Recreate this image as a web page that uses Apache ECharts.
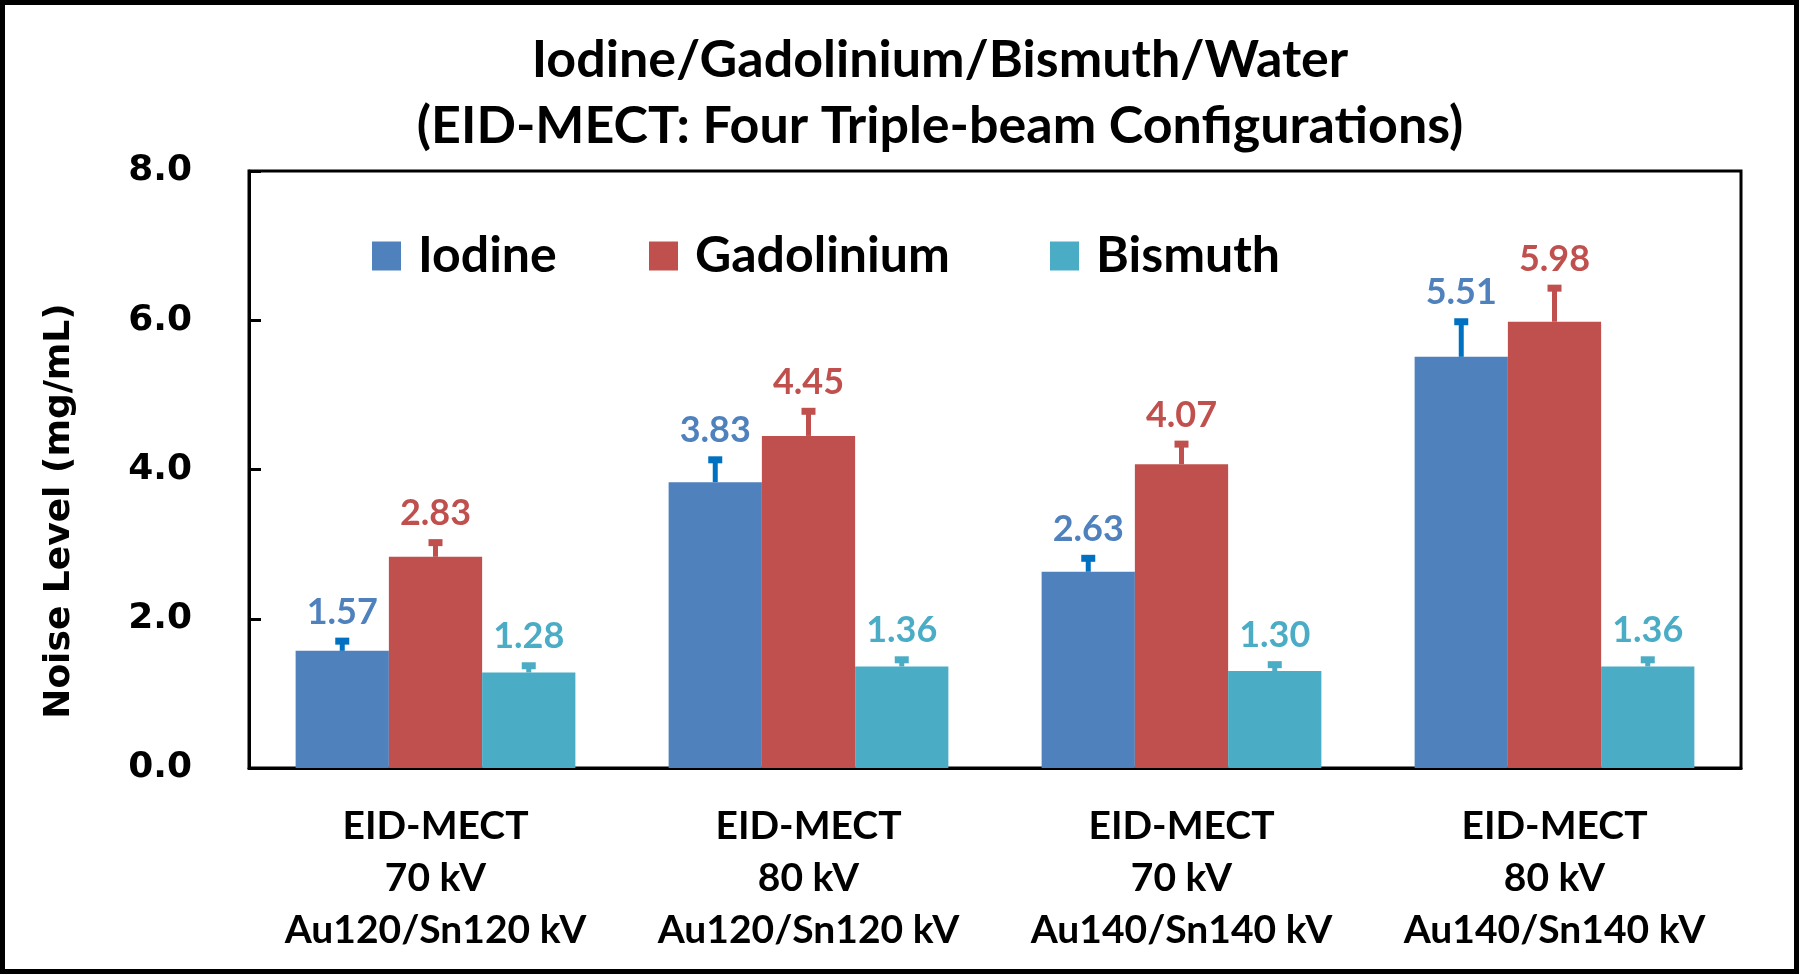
<!DOCTYPE html>
<html>
<head>
<meta charset="utf-8">
<script src="https://cdn.jsdelivr.net/npm/echarts@6/dist/echarts.min.js"></script>
<style>html,body{margin:0;padding:0;background:#fff;}#c{width:1800px;height:975px;}</style>
</head>
<body>
<div id="c"></div>
<script>
const categories = ['EID-MECT\n70 kV\nAu120/Sn120 kV', 'EID-MECT\n80 kV\nAu120/Sn120 kV', 'EID-MECT\n70 kV\nAu140/Sn140 kV', 'EID-MECT\n80 kV\nAu140/Sn140 kV'];
const seriesNames = ['Iodine', 'Gadolinium', 'Bismuth'];
const iodine = [1.57, 3.83, 2.63, 5.51];
const iodineErr = [0.13, 0.30, 0.18, 0.47];
const gadolinium = [2.83, 4.45, 4.07, 5.98];
const gadoliniumErr = [0.19, 0.33, 0.27, 0.45];
const bismuth = [1.28, 1.36, 1.30, 1.36];
const bismuthErr = [0.09, 0.09, 0.085, 0.09];
const yTicks = [0, 2, 4, 6, 8];

const barColors = ['#4F81BD', '#C0504D', '#4BACC6'];
const errColors = ['#0070C0', '#C0504D', '#4BACC6'];
const values = [iodine, gadolinium, bismuth];
const errs = [iodineErr, gadoliniumErr, bismuthErr];
const FONT = 'Lato';
const CAT_GAP = 0.25;

const chart = echarts.init(document.getElementById('c'), null, {renderer: 'canvas'});

function errSeries(k) {
  return {
    type: 'custom',
    name: seriesNames[k] + ' error',
    z: 5,
    data: values[k].map((v, i) => [i, v, errs[k][i]]),
    renderItem: function (params, api) {
      const i = api.value(0), v = api.value(1), e = api.value(2);
      const band = api.size([1, 0])[0];
      const bw = band * (1 - CAT_GAP) / 3;
      const base = api.coord([i, v]);
      const x = base[0] + (k - 1) * bw;
      const yTop = api.coord([i, v + e])[1];
      return {
        type: 'group',
        children: [
          {type: 'line', shape: {x1: x, y1: base[1], x2: x, y2: yTop}, style: {stroke: errColors[k], lineWidth: 5}},
          {type: 'line', shape: {x1: x - 7, y1: yTop, x2: x + 7, y2: yTop}, style: {stroke: errColors[k], lineWidth: 7}},
          {type: 'text', x: x, y: yTop - 29, style: {text: v.toFixed(2), fill: barColors[k], font: 'bold 36px ' + FONT, align: 'center', verticalAlign: 'middle'}}
        ]
      };
    }
  };
}

const legendLefts = [367, 644, 1045];

const option = {
  animation: false,
  backgroundColor: '#ffffff',
  grid: {left: 249, right: 59, top: 171, bottom: 207, show: true, borderColor: '#000', borderWidth: 3, backgroundColor: 'transparent'},
  legend: seriesNames.map((n, k) => ({
    data: [n], left: legendLefts[k], top: 226, itemWidth: 29, itemHeight: 29, icon: 'rect',
    textStyle: {fontFamily: FONT, fontWeight: 'bold', fontSize: 50, color: '#000', padding: [0, 0, 0, 12]}
  })),
  xAxis: {
    type: 'category', data: categories,
    axisLine: {show: true, lineStyle: {color: '#000', width: 3}},
    axisTick: {show: false},
    axisLabel: {margin: 32, fontFamily: FONT, fontWeight: 'bold', fontSize: 39, lineHeight: 52, color: '#000', interval: 0}
  },
  yAxis: {
    type: 'value', min: yTicks[0], max: yTicks[yTicks.length - 1], interval: 2,
    axisLine: {show: true, lineStyle: {color: '#000', width: 3}},
    axisTick: {show: true, inside: true, length: 12, lineStyle: {color: '#000', width: 3}},
    splitLine: {show: false},
    axisLabel: {margin: 57, fontFamily: 'DejaVu Sans', fontWeight: 'bold', fontSize: 36, color: '#000', formatter: v => v.toFixed(1)}
  },
  graphic: [
    {type: 'rect', shape: {x: 2.5, y: 2.5, width: 1794, height: 969}, style: {fill: 'none', stroke: '#000', lineWidth: 5}, z: 100},
    {type: 'text', x: 940, y: 60, style: {text: 'Iodine/Gadolinium/Bismuth/Water', font: 'bold 52px ' + FONT, fill: '#000', align: 'center', verticalAlign: 'middle'}},
    {type: 'text', x: 940, y: 126, style: {text: '(EID-MECT: Four Triple-beam Configurations)', font: 'bold 52px ' + FONT, fill: '#000', align: 'center', verticalAlign: 'middle'}},
    {type: 'text', x: 60, y: 511, rotation: Math.PI / 2, style: {text: 'Noise Level (mg/mL)', font: 'bold 36px DejaVu Sans', fill: '#000', align: 'center', verticalAlign: 'middle'}}
  ],
  series: seriesNames.map((n, k) => ({
    type: 'bar', name: n, data: values[k],
    barGap: '0%', barCategoryGap: (CAT_GAP * 100) + '%',
    itemStyle: {color: barColors[k]}
  })).concat([0, 1, 2].map(errSeries))
};
chart.setOption(option);
</script>
</body>
</html>
